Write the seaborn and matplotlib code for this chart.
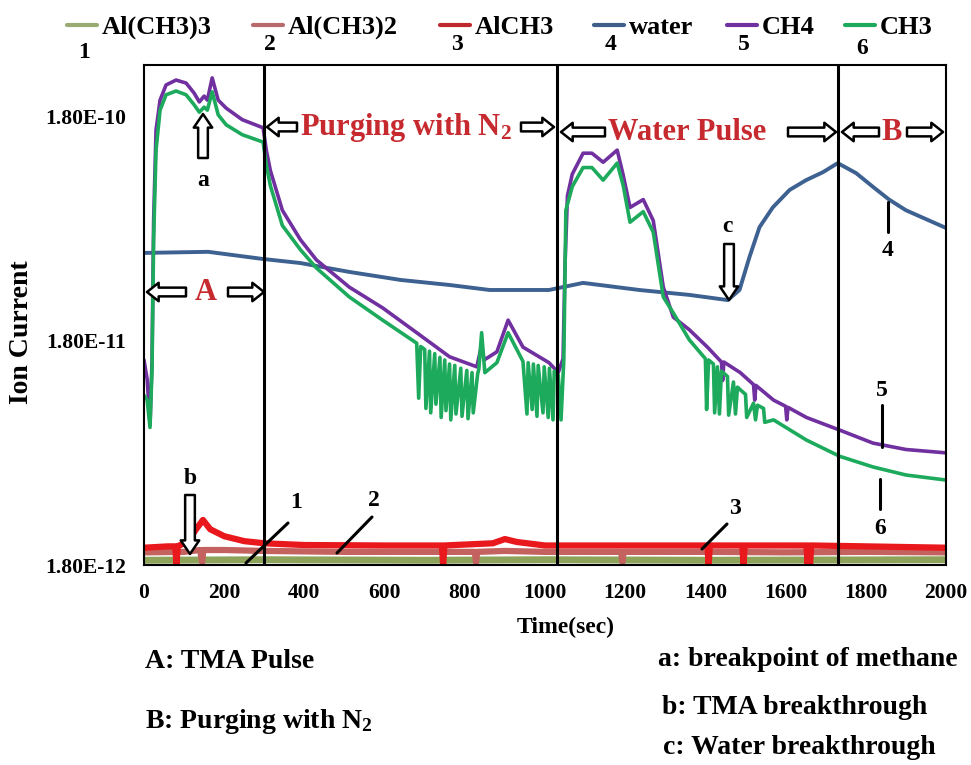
import numpy as np
import pandas as pd
import matplotlib
matplotlib.use("Agg")
import matplotlib.pyplot as plt
import seaborn as sns
from matplotlib.lines import Line2D

# ---------------- data ----------------
series_names = ["Al(CH3)3", "Al(CH3)2", "AlCH3", "water", "CH4", "CH3"]
series_colors = ["#8ea35a", "#c3625e", "#e8181c", "#3d6190", "#7030a0", "#1daa5c"]
legend_colors = ["#9aab72", "#b86a6a", "#c0282d", "#3d5f8a", "#7030a0", "#1daa5c"]

t_alch3_3 = [0, 300, 700, 1000, 1400, 2000]
v_alch3_3 = [1.89e-12, 1.90e-12, 1.89e-12, 1.90e-12, 1.89e-12, 1.90e-12]

t_alch3_2 = [0, 100, 140, 145, 148, 200, 300, 500, 700, 825, 828, 831, 900, 1000,
             1190, 1193, 1196, 1400, 1600, 1800, 2000]
v_alch3_2 = [2.05e-12, 2.06e-12, 2.10e-12, 1.85e-12, 2.10e-12, 2.10e-12, 2.08e-12,
             2.06e-12, 2.06e-12, 2.06e-12, 1.85e-12, 2.06e-12, 2.08e-12, 2.06e-12,
             2.06e-12, 1.85e-12, 2.06e-12, 2.06e-12, 2.05e-12, 2.06e-12, 2.05e-12]

t_alch3 = [0, 60, 78, 81, 84, 110, 130, 147, 165, 200, 250, 300, 400, 600, 743, 746,
           749, 870, 900, 930, 1000, 1200, 1405, 1408, 1411, 1492, 1495, 1498, 1652,
           1655, 1658, 1661, 1664, 1800, 2000]
v_alch3 = [2.15e-12, 2.18e-12, 2.18e-12, 1.80e-12, 2.18e-12, 2.30e-12, 2.60e-12,
           2.86e-12, 2.60e-12, 2.42e-12, 2.30e-12, 2.25e-12, 2.21e-12, 2.20e-12,
           2.20e-12, 1.80e-12, 2.20e-12, 2.25e-12, 2.35e-12, 2.28e-12, 2.20e-12,
           2.20e-12, 2.20e-12, 1.80e-12, 2.20e-12, 2.20e-12, 1.80e-12, 2.20e-12,
           2.20e-12, 1.80e-12, 2.20e-12, 1.80e-12, 2.20e-12, 2.18e-12, 2.15e-12]

t_water = [0, 160, 297, 390, 512, 640, 762, 862, 1010, 1095, 1235, 1360, 1456, 1485,
           1510, 1535, 1568, 1610, 1651, 1693, 1730, 1776, 1817, 1858, 1900, 2000]
v_water = [4.45e-11, 4.50e-11, 4.18e-11, 4.01e-11, 3.66e-11, 3.37e-11, 3.20e-11,
           3.04e-11, 3.04e-11, 3.27e-11, 3.04e-11, 2.89e-11, 2.74e-11, 3.04e-11,
           4.27e-11, 5.80e-11, 7.10e-11, 8.50e-11, 9.40e-11, 1.02e-10, 1.12e-10,
           1.01e-10, 8.80e-11, 7.70e-11, 6.90e-11, 5.75e-11]

t_ch4 = [0, 8, 15, 20, 24, 30, 40, 55, 80, 105, 125, 138, 150, 158, 170, 185, 205,
         245, 297, 305, 315, 345, 390, 430, 512, 595, 680, 762, 830, 842, 848, 880,
         908, 945, 1010, 1033, 1045, 1050, 1056, 1068, 1095, 1117, 1145, 1180, 1195,
         1212, 1245, 1270, 1295, 1320, 1360, 1405, 1440, 1443, 1446, 1487, 1520,
         1523, 1526, 1570, 1600, 1603, 1606, 1652, 1735, 1818, 1900, 2000]
v_ch4 = [1.48e-11, 1.21e-11, 7.6e-12, 1.48e-11, 6.2e-11, 1.57e-10, 2.14e-10, 2.50e-10,
         2.63e-10, 2.55e-10, 2.30e-10, 2.10e-10, 2.23e-10, 2.14e-10, 2.69e-10,
         2.14e-10, 1.97e-10, 1.75e-10, 1.61e-10, 1.28e-10, 1.04e-10, 6.9e-11, 5.1e-11,
         4.14e-11, 3.13e-11, 2.53e-11, 1.96e-11, 1.53e-11, 1.38e-11, 1.73e-11,
         1.48e-11, 1.61e-11, 2.23e-11, 1.69e-11, 1.44e-11, 1.30e-11, 1.50e-11,
         4.0e-11, 8.0e-11, 1.0e-10, 1.24e-10, 1.24e-10, 1.13e-10, 1.28e-10, 9.9e-11,
         7.1e-11, 7.7e-11, 6.2e-11, 3.13e-11, 2.30e-11, 2.02e-11, 1.69e-11, 1.45e-11,
         1.20e-11, 1.45e-11, 1.30e-11, 1.15e-11, 9.8e-12, 1.14e-11, 9.8e-12, 9.2e-12,
         8.0e-12, 9.1e-12, 8.2e-12, 7.2e-12, 6.3e-12, 5.9e-12, 5.7e-12]

t_ch3 = [0, 8, 15, 20, 24, 30, 40, 55, 80, 105, 125, 138, 150, 158, 170, 185, 205,
         245, 297, 305, 315, 345, 390, 430, 512, 595, 680, 685, 690, 700, 703, 712,
         715, 725, 728, 738, 741, 750, 753, 762, 765, 775, 778, 790, 793, 805, 808,
         818, 821, 832, 835, 842, 850, 880, 908, 945, 955, 958, 968, 971, 980, 983,
         995, 998, 1008, 1011, 1020, 1023, 1033, 1040, 1047, 1052, 1068, 1095, 1117,
         1145, 1180, 1195, 1212, 1245, 1270, 1295, 1320, 1360, 1400, 1403, 1408,
         1420, 1423, 1430, 1435, 1440, 1455, 1458, 1470, 1475, 1480, 1487, 1500,
         1503, 1520, 1525, 1530, 1545, 1548, 1570, 1652, 1735, 1818, 1900, 2000]
v_ch3 = [1.03e-11, 9.8e-12, 7.4e-12, 1.34e-11, 5.1e-11, 1.28e-10, 1.93e-10, 2.26e-10,
         2.35e-10, 2.26e-10, 2.04e-10, 1.89e-10, 1.99e-10, 1.93e-10, 2.33e-10,
         1.84e-10, 1.66e-10, 1.50e-10, 1.39e-10, 1.10e-10, 8.9e-11, 5.9e-11, 4.6e-11,
         3.81e-11, 2.83e-11, 2.23e-11, 1.76e-11, 1.00e-11, 1.70e-11, 1.65e-11,
         9.0e-12, 1.62e-11, 8.6e-12, 1.58e-11, 9.4e-12, 1.52e-11, 8.2e-12, 1.48e-11,
         8.8e-12, 1.42e-11, 8.0e-12, 1.40e-11, 8.5e-12, 1.36e-11, 8.3e-12, 1.33e-11,
         8.1e-12, 1.30e-11, 8.6e-12, 1.28e-11, 1.35e-11, 1.96e-11, 1.30e-11,
         1.44e-11, 1.96e-11, 1.46e-11, 8.5e-12, 1.44e-11, 8.9e-12, 1.42e-11, 8.3e-12,
         1.40e-11, 8.6e-12, 1.38e-11, 8.2e-12, 1.36e-11, 8.0e-12, 1.32e-11, 1.27e-11,
         8.0e-12, 1.50e-11, 6.9e-11, 8.8e-11, 1.07e-10, 1.07e-10, 9.4e-11, 1.12e-10,
         8.9e-11, 6.1e-11, 6.8e-11, 5.5e-11, 2.83e-11, 2.40e-11, 1.82e-11, 1.50e-11,
         8.9e-12, 1.48e-11, 1.42e-11, 8.6e-12, 1.38e-11, 8.5e-12, 1.32e-11, 1.25e-11,
         8.4e-12, 1.18e-11, 8.5e-12, 1.12e-11, 1.09e-11, 1.04e-11, 8.2e-12, 9.5e-12,
         8.0e-12, 9.3e-12, 9.0e-12, 7.8e-12, 8.0e-12, 6.5e-12, 5.5e-12, 4.93e-12,
         4.54e-12, 4.31e-12]

series_t = [t_alch3_3, t_alch3_2, t_alch3, t_water, t_ch4, t_ch3]
series_v = [v_alch3_3, v_alch3_2, v_alch3, v_water, v_ch4, v_ch3]
series_lw = [5.0, 4.5, 4.5, 2.8, 2.6, 2.6]

phase_bounds = [300, 1031, 1731]
y_ticks = [1.8e-12, 1.8e-11, 1.8e-10]
y_ticklabels = ["1.80E-12", "1.80E-11", "1.80E-10"]
x_ticks = [0, 200, 400, 600, 800, 1000, 1200, 1400, 1600, 1800, 2000]

# ---------------- style ----------------
sns.set_theme(style="white")
plt.rcParams["font.family"] = ["Liberation Serif", "DejaVu Serif"]
plt.rcParams["font.weight"] = "bold"
plt.rcParams["text.color"] = "black"
plt.rcParams["axes.labelcolor"] = "black"
plt.rcParams["xtick.color"] = "black"
plt.rcParams["ytick.color"] = "black"
plt.rcParams["mathtext.fontset"] = "custom"
plt.rcParams["mathtext.rm"] = "Liberation Serif:bold"
plt.rcParams["mathtext.it"] = "Liberation Serif:bold"
plt.rcParams["mathtext.bf"] = "Liberation Serif:bold"

W, H = 971, 765
fig = plt.figure(figsize=(W / 100, H / 100), dpi=100)
ax = fig.add_axes([144 / W, 1 - 565 / H, (946 - 144) / W, (565 - 65) / H])


def P(x, y):
    return (x / W, 1 - y / H)


for name, tt, vv, col, lw in zip(series_names, series_t, series_v, series_colors, series_lw):
    df = pd.DataFrame({"Time": tt, "Ion": vv})
    sns.lineplot(data=df, x="Time", y="Ion", ax=ax, color=col, lw=lw,
                 estimator=None, sort=False, legend=False)

for xb in phase_bounds:
    ax.axvline(xb, color="black", lw=2.2, zorder=5)

ax.set_yscale("log")
ax.set_ylim(1.8e-12, 3.07e-10)
ax.set_xlim(0, 2000)
ax.set_yticks(y_ticks)
ax.set_yticklabels(y_ticklabels)
ax.minorticks_off()
ax.set_xticks(x_ticks)
ax.set_xticklabels([str(v) for v in x_ticks])
ax.tick_params(axis="both", length=0, labelsize=15.5, colors="black")
ax.tick_params(axis="y", pad=13)
ax.tick_params(axis="x", pad=13)
for lab in ax.get_xticklabels() + ax.get_yticklabels():
    lab.set_fontweight("bold")
ax.set_xlabel("")
ax.set_ylabel("")
for s in ax.spines.values():
    s.set_color("black")
    s.set_linewidth(1.5)

# ---------------- annotations ----------------
red = "#c62a2f"
arrow_h = dict(arrowstyle="simple,head_length=0.6,head_width=0.95,tail_width=0.45",
               fc="white", ec="black", lw=1.8, mutation_scale=14, shrinkA=0, shrinkB=0)
arrow_v = dict(arrowstyle="simple,head_length=0.7,head_width=0.95,tail_width=0.5",
               fc="white", ec="black", lw=1.8, mutation_scale=14, shrinkA=0, shrinkB=0)


def harrow(x_head, x_tail, y):
    fig.add_artist(matplotlib.patches.FancyArrowPatch(
        P(x_tail, y), P(x_head, y), transform=fig.transFigure, **arrow_h))


def varrow(x, y_head, y_tail):
    fig.add_artist(matplotlib.patches.FancyArrowPatch(
        P(x, y_tail), P(x, y_head), transform=fig.transFigure, **arrow_v))


# Purging with N2 row
harrow(267, 297, 127)
fig.text(*P(300, 127), "Purging with N$_2$", color=red, fontsize=22, fontweight="bold",
         ha="left", va="center")
harrow(554, 521, 127)
# Water Pulse row
harrow(561, 605, 132)
fig.text(*P(608, 132), "Water Pulse", color=red, fontsize=22, fontweight="bold",
         ha="left", va="center")
harrow(836, 788, 132)
# B row
harrow(842, 879, 132)
fig.text(*P(892, 132), "B", color=red, fontsize=22, fontweight="bold", ha="center", va="center")
harrow(943, 907, 132)
# A row
harrow(147, 186, 292)
fig.text(*P(206, 292), "A", color=red, fontsize=22, fontweight="bold", ha="center", va="center")
harrow(264, 228, 292)

# point markers a, b, c
varrow(203, 114, 158)
fig.text(*P(203, 180), "a", fontsize=17, fontweight="bold", ha="center", va="center")
varrow(190, 554, 495)
fig.text(*P(190, 478), "b", fontsize=17, fontweight="bold", ha="center", va="center")
varrow(729, 300, 244)
fig.text(*P(727, 226), "c", fontsize=17, fontweight="bold", ha="center", va="center")

# curve number labels with leader lines
leaders = [((246, 563), (288, 523), "1", (296, 503)),
           ((337, 553), (372, 517), "2", (374, 500)),
           ((702, 549), (727, 524), "3", (735, 508)),
           ((888, 202), (888, 232), "4", (888, 250)),
           ((882, 405), (882, 447), "5", (882, 391)),
           ((880, 479), (880, 509), "6", (880, 528))]
for (x0, y0), (x1, y1), lab, (tx, ty) in leaders:
    fig.add_artist(Line2D([x0 / W, x1 / W], [1 - y0 / H, 1 - y1 / H],
                          transform=fig.transFigure, color="black", lw=2.2))
    fig.text(*P(tx, ty), lab, fontsize=17, fontweight="bold", ha="center", va="center")

# ---------------- legend (top) ----------------
leg_line_x = [(67, 97), (253, 283), (440, 470), (594, 624), (727, 757), (845, 875)]
leg_num_y = [52, 45, 45, 45, 45, 48]
for i, name in enumerate(series_names):
    x0, x1 = leg_line_x[i]
    fig.add_artist(Line2D([x0 / W, x1 / W], [1 - 25 / H, 1 - 25 / H],
                          transform=fig.transFigure, color=legend_colors[i], lw=3))
    fig.text(*P(x1 + 5, 27), name, fontsize=19, fontweight="bold", ha="left", va="center")
    fig.text(*P((x0 + x1) / 2 + 2, leg_num_y[i]), str(i + 1), fontsize=17,
             fontweight="bold", ha="center", va="center")

# ---------------- axis titles and footnotes ----------------
fig.text(*P(566, 627), "Time(sec)", fontsize=17, fontweight="bold", ha="center", va="center")
fig.text(*P(22, 332), "Ion Current", fontsize=20, fontweight="bold", rotation=90,
         ha="center", va="center")
fig.text(*P(145, 662), "A: TMA Pulse", fontsize=20, fontweight="bold", ha="left", va="center")
fig.text(*P(145, 722), "B: Purging with N$_2$", fontsize=20, fontweight="bold",
         ha="left", va="center")
fig.text(*P(658, 660), "a: breakpoint of methane", fontsize=20, fontweight="bold",
         ha="left", va="center")
fig.text(*P(662, 707), "b: TMA breakthrough", fontsize=20, fontweight="bold",
         ha="left", va="center")
fig.text(*P(663, 748), "c: Water breakthrough", fontsize=20, fontweight="bold",
         ha="left", va="center")

fig.savefig("out.png", dpi=100, facecolor="white")
